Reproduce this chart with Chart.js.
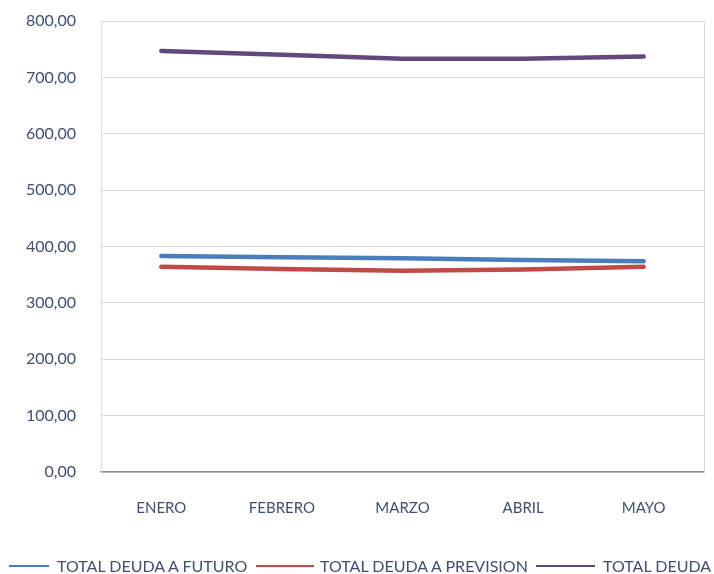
<!DOCTYPE html>
<html>
<head>
<meta charset="utf-8">
<script src="https://cdn.jsdelivr.net/npm/chart.js@4/dist/chart.umd.min.js"></script>
<style>
  html, body { margin: 0; padding: 0; background: #fff; }
  #wrap { position: relative; width: 714px; height: 574px; }
  #legend { position: absolute; left: 0; top: 556px; width: 714px; height: 20px;
            font-family: Lato, "Open Sans", sans-serif; font-size: 16px; color: #3f4f6d; white-space: nowrap; }
  .sw { position: absolute; top: 9px; height: 2px; }
  .tx { position: absolute; top: 0; line-height: 20px; }
</style>
</head>
<body>
<div id="wrap">
  <canvas id="c" width="714" height="574"></canvas>
  <div id="legend"></div>
</div>
<script>
const categories = ["ENERO", "FEBRERO", "MARZO", "ABRIL", "MAYO"];
const futuro = [383, 381, 379, 376, 374];
const prevision = [364, 360, 357, 359, 364];
const total = [747, 740, 733, 733, 737];
const seriesNames = ["TOTAL DEUDA A FUTURO", "TOTAL DEUDA A PREVISION", "TOTAL DEUDA"];
const seriesColors = ["#4a7ebb", "#be4b48", "#604a7b"];
const yTicks = [0, 100, 200, 300, 400, 500, 600, 700, 800];

const textColor = "#3f4f6d";
const fontFam = "Lato, 'Open Sans', sans-serif";

const mk = (i, data) => ({
  label: seriesNames[i], data, borderColor: seriesColors[i], backgroundColor: seriesColors[i],
  borderWidth: 4.5, pointRadius: 0, tension: 0, borderCapStyle: 'round', borderJoinStyle: 'round', fill: false
});

new Chart(document.getElementById('c'), {
  type: 'line',
  data: { labels: categories, datasets: [mk(0, futuro), mk(1, prevision), mk(2, total)] },
  options: {
    responsive: false, animation: false,
    layout: { padding: { top: 21, right: 10, left: 0, bottom: 0 } },
    plugins: { legend: { display: false }, tooltip: { enabled: false } },
    scales: {
      x: {
        offset: true,
        grid: { display: false, drawTicks: false },
        border: { display: true, color: '#8c8c8c', width: 1.5 },
        ticks: { color: textColor, font: { family: fontFam, size: 15 }, padding: 27, maxRotation: 0 },
        afterFit: s => { s.height = 102; s.paddingLeft = 0; s.paddingRight = 0; }
      },
      y: {
        min: 0, max: 800,
        afterBuildTicks: s => { s.ticks = yTicks.map(v => ({ value: v })); },
        grid: { color: '#d9d9d9', drawTicks: false, lineWidth: 1 },
        border: { display: true, color: '#d9d9d9' },
        ticks: { color: textColor, font: { family: fontFam, size: 16 }, padding: 25,
                 callback: v => v.toFixed(2).replace('.', ',') },
        afterFit: s => { s.width = 101; s.paddingTop = 0; s.paddingBottom = 0; }
      }
    }
  },
  plugins: [{
    id: 'rightBorder',
    afterDraw(chart) {
      const { ctx, chartArea: a } = chart;
      ctx.save(); ctx.strokeStyle = '#d9d9d9'; ctx.lineWidth = 1;
      ctx.beginPath(); ctx.moveTo(a.right + 0.5, a.top); ctx.lineTo(a.right + 0.5, a.bottom); ctx.stroke();
      ctx.restore();
    }
  }]
});

const swLeft = [9, 256, 536], swWidth = [40, 58, 59], txLeft = [57, 320, 603];
const lg = document.getElementById('legend');
seriesNames.forEach((n, i) => {
  const sw = document.createElement('span'); sw.className = 'sw';
  sw.style.left = swLeft[i] + 'px'; sw.style.width = swWidth[i] + 'px'; sw.style.background = seriesColors[i];
  const tx = document.createElement('span'); tx.className = 'tx'; tx.style.left = txLeft[i] + 'px'; tx.textContent = n;
  lg.appendChild(sw); lg.appendChild(tx);
});
</script>
</body>
</html>
